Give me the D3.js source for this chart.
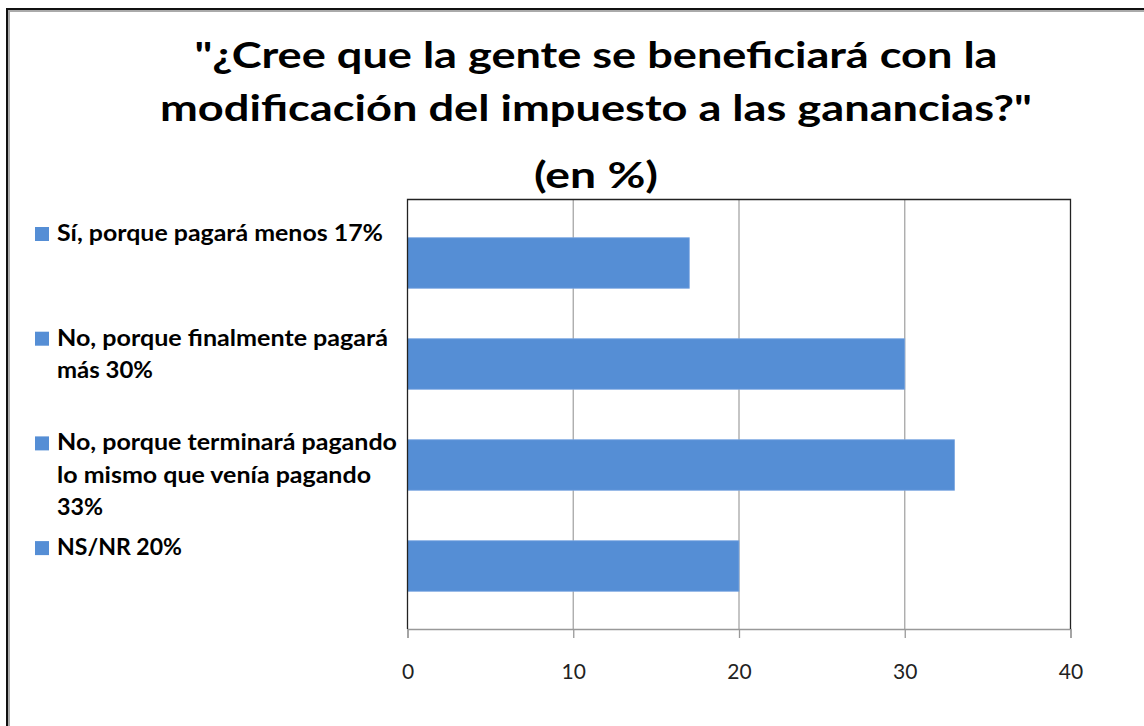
<!DOCTYPE html>
<html>
<head>
<meta charset="utf-8">
<script src="https://cdn.jsdelivr.net/npm/d3@7"></script>
<style>
  body { margin: 0; background: #fff; }
  text { font-family: Lato, "Open Sans", sans-serif; }
</style>
</head>
<body>
<script>
// chart data
const categories = [
  "Sí, porque pagará menos 17%",
  "No, porque finalmente pagará más 30%",
  "No, porque terminará pagando lo mismo que venía pagando 33%",
  "NS/NR 20%"
]
const values = [17, 30, 33, 20]
// legend text, wrapped the way the original shows it
const legendLines = [
  ["Sí, porque pagará menos 17%"],
  ["No, porque finalmente pagará", "más 30%"],
  ["No, porque terminará pagando", "lo mismo que venía pagando", "33%"],
  ["NS/NR 20%"]
]
const xTicks = [0, 10, 20, 30, 40]
const titleLines = [
  "\"¿Cree que la gente se beneficiará con la",
  "modificación del impuesto a las ganancias?\"",
  "(en %)"
]

const m = { width: 1144, height: 726 }
const plot = { left: 407.5, right: 1070.5, top: 199.5, bottom: 629 }
const barColor = '#558ED5'

// the original font is wider than Lato, so lines are stretched to these widths
const titleWidths = [803, 872, 124]
const legendWidths = [[326], [331, 96], [340, 314, 46], [125]]

const svg = d3.select('body').append('svg')
  .attr('width', m.width)
  .attr('height', m.height)

// outer frame (only top and left edges are inside the picture)
svg.append('rect')
  .attr('x', 9).attr('y', 11)
  .attr('width', m.width + 20).attr('height', m.height + 20)
  .attr('fill', 'none').attr('stroke', '#aaa').attr('stroke-width', 2)
svg.append('rect')
  .attr('x', 7).attr('y', 9)
  .attr('width', m.width + 20).attr('height', m.height + 20)
  .attr('fill', 'none').attr('stroke', '#111').attr('stroke-width', 2)

// title
const titleY = [68, 121, 188]
svg.selectAll('.title')
  .data(titleLines)
  .enter()
  .append('text')
    .attr('class', 'title')
    .attr('x', 596)
    .attr('y', (d, i) => titleY[i])
    .attr('text-anchor', 'middle')
    .attr('font-size', 36)
    .attr('font-weight', 'bold')
    .attr('fill', '#000')
    .attr('textLength', (d, i) => titleWidths[i])
    .attr('lengthAdjust', 'spacingAndGlyphs')
    .text(d => d)

const x = d3.scaleLinear()
  .domain([0, 40])
  .range([plot.left, plot.right])

const y = d3.scaleBand()
  .domain(categories)
  .range([212.5, 616.5])
  .paddingInner(0.5)
  .paddingOuter(0.25)

const g = svg.append('g')

// vertical gridlines
g.selectAll('.grid')
  .data(xTicks.slice(1, -1))
  .enter()
  .append('line')
    .attr('x1', d => x(d)).attr('x2', d => x(d))
    .attr('y1', plot.top).attr('y2', plot.bottom)
    .attr('stroke', '#a6a6a6')
    .attr('stroke-width', 1.3)

// bottom axis
const xAxis = d3.axisBottom(x)
  .tickValues(xTicks)
  .tickSize(9)
  .tickPadding(26)

const axisG = g.append('g')
  .attr('transform', `translate(0,${plot.bottom})`)
  .call(xAxis)
axisG.select('.domain').attr('stroke', '#999').attr('stroke-width', 1.3)
axisG.selectAll('.tick line').attr('stroke', '#999').attr('stroke-width', 1.3)
axisG.selectAll('.tick text')
  .attr('font-family', 'Lato, sans-serif')
  .attr('font-size', 21)
  .attr('fill', '#222')

// bars
g.selectAll('.bar')
  .data(values)
  .enter()
  .append('rect')
    .attr('class', 'bar')
    .attr('x', x(0))
    .attr('y', (d, i) => y(categories[i]))
    .attr('width', d => x(d) - x(0))
    .attr('height', y.bandwidth())
    .attr('fill', barColor)
    .attr('stroke', '#7ba7e0')
    .attr('stroke-width', 0.8)

// plot frame: top, left, right dark
g.append('path')
  .attr('d', `M${plot.left},${plot.bottom}V${plot.top}H${plot.right}V${plot.bottom}`)
  .attr('fill', 'none')
  .attr('stroke', '#222')
  .attr('stroke-width', 1.3)

// legend
const legendBase = [241, 345.7, 450.4, 555.1]
const lg = svg.append('g')
legendLines.forEach(function(lines, i) {
  lg.append('rect')
    .attr('x', 35).attr('y', legendBase[i] - 14)
    .attr('width', 14).attr('height', 14)
    .attr('fill', barColor)
  lines.forEach(function(t, j) {
    lg.append('text')
      .attr('x', 57)
      .attr('y', legendBase[i] + j * 32.5)
      .attr('font-size', 22)
      .attr('font-weight', 'bold')
      .attr('fill', '#000')
      .attr('textLength', legendWidths[i][j])
      .attr('lengthAdjust', 'spacingAndGlyphs')
      .text(t)
  })
})
</script>
</body>
</html>
